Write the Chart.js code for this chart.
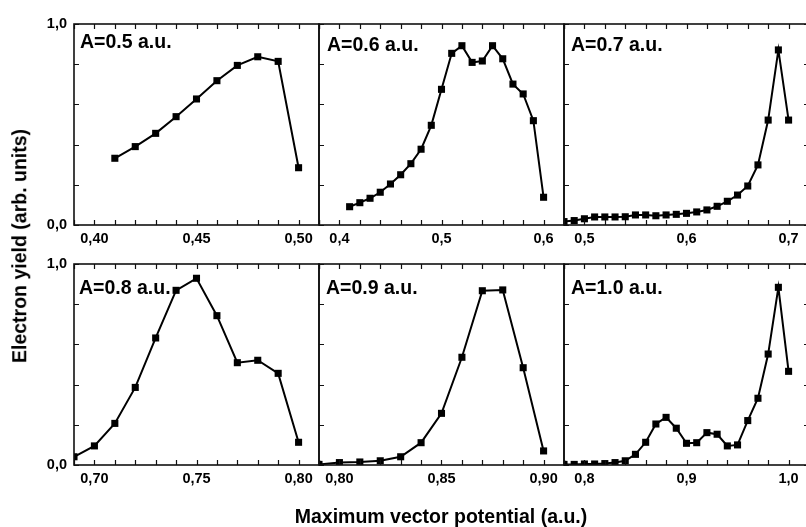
<!DOCTYPE html>
<html>
<head>
<meta charset="utf-8">
<script src="https://cdn.jsdelivr.net/npm/chart.js@4/dist/chart.umd.min.js"></script>
<style>
  html, body { margin: 0; padding: 0; background: #fff; overflow: hidden; }
  #wrap { position: relative; width: 806px; height: 527px; overflow: hidden; background: #fff; }
  canvas { position: absolute; }
  .lbl { position: absolute; font: bold 19.5px "Liberation Sans", Arial, sans-serif; color: #000; white-space: nowrap; line-height: 1; }
</style>
</head>
<body>
<div id="wrap">
  <canvas id="c1"></canvas>
  <canvas id="c2"></canvas>
  <canvas id="c3"></canvas>
  <canvas id="c4"></canvas>
  <canvas id="c5"></canvas>
  <canvas id="c6"></canvas>
  <div class="lbl" style="left:80px; top:31.5px">A=0.5 a.u.</div>
  <div class="lbl" style="left:327px; top:34.5px">A=0.6 a.u.</div>
  <div class="lbl" style="left:571px; top:34.5px">A=0.7 a.u.</div>
  <div class="lbl" style="left:79px; top:277.5px">A=0.8 a.u.</div>
  <div class="lbl" style="left:326px; top:277.5px">A=0.9 a.u.</div>
  <div class="lbl" style="left:571px; top:277.5px">A=1.0 a.u.</div>
  <div class="lbl" style="left:441px; top:506.5px; transform: translateX(-50%)">Maximum vector potential (a.u.)</div>
  <div class="lbl" style="left:20px; top:246px; transform: translate(-50%, -50%) rotate(-90deg)">Electron yield (arb. units)</div>
</div>
<script>
// data
const x_a05 = [0.41, 0.42, 0.43, 0.44, 0.45, 0.46, 0.47, 0.48, 0.49, 0.50];
const y_a05 = [0.332, 0.390, 0.456, 0.539, 0.627, 0.718, 0.794, 0.837, 0.814, 0.285];

const x_a06 = [0.41, 0.42, 0.43, 0.44, 0.45, 0.46, 0.47, 0.48, 0.49, 0.50,
               0.51, 0.52, 0.53, 0.54, 0.55, 0.56, 0.57, 0.58, 0.59, 0.60];
const y_a06 = [0.091, 0.111, 0.133, 0.163, 0.204, 0.250, 0.305, 0.377, 0.496, 0.675,
               0.854, 0.892, 0.809, 0.816, 0.892, 0.827, 0.701, 0.652, 0.519, 0.138];

const x_a07 = [0.48, 0.49, 0.50, 0.51, 0.52, 0.53, 0.54, 0.55, 0.56, 0.57, 0.58, 0.59,
               0.60, 0.61, 0.62, 0.63, 0.64, 0.65, 0.66, 0.67, 0.68, 0.69, 0.70];
const y_a07 = [0.017, 0.022, 0.031, 0.040, 0.040, 0.040, 0.041, 0.050, 0.050, 0.046, 0.050, 0.053,
               0.058, 0.065, 0.075, 0.093, 0.118, 0.149, 0.194, 0.299, 0.522, 0.871, 0.522];

const x_a08 = [0.69, 0.70, 0.71, 0.72, 0.73, 0.74, 0.75, 0.76, 0.77, 0.78, 0.79, 0.80];
const y_a08 = [0.041, 0.095, 0.207, 0.386, 0.632, 0.869, 0.929, 0.743, 0.509, 0.521, 0.456, 0.113];

const x_a09 = [0.79, 0.80, 0.81, 0.82, 0.83, 0.84, 0.85, 0.86, 0.87, 0.88, 0.89, 0.90];
const y_a09 = [0.003, 0.012, 0.015, 0.021, 0.041, 0.111, 0.257, 0.536, 0.867, 0.871, 0.484, 0.070];

const x_a10 = [0.78, 0.79, 0.80, 0.81, 0.82, 0.83, 0.84, 0.85, 0.86, 0.87, 0.88, 0.89,
               0.90, 0.91, 0.92, 0.93, 0.94, 0.95, 0.96, 0.97, 0.98, 0.99, 1.00];
const y_a10 = [0.003, 0.003, 0.005, 0.005, 0.007, 0.012, 0.021, 0.053, 0.113, 0.204, 0.237, 0.183,
               0.108, 0.111, 0.161, 0.153, 0.095, 0.100, 0.221, 0.332, 0.552, 0.884, 0.466];

// axis ranges and tick steps: [min, max, minor step, labelled step, decimals]
const x_axis_a05 = [0.39, 0.51, 0.01, 0.05, 2];
const x_axis_a06 = [0.38, 0.62, 0.02, 0.1, 1];
const x_axis_a07 = [0.48, 0.72, 0.02, 0.1, 1];
const x_axis_a08 = [0.69, 0.81, 0.01, 0.05, 2];
const x_axis_a09 = [0.79, 0.91, 0.01, 0.05, 2];
const x_axis_a10 = [0.78, 1.02, 0.02, 0.1, 1];
const y_tick_labels = ['0,0', '1,0'];

const PW = 245, PH = 201;
const PAD = 20, X_AXIS_H = 30, Y_AXIS_W = 60;

function fmt(v, d) {
    return v.toFixed(d).replace('.', ',');
}

function on_step(v, step) {
    const r = v / step;
    return Math.abs(r - Math.round(r)) < 1e-6;
}

// frame with inward tick marks, like the original plots
const framePlugin = {
    id: 'frame',
    afterDraw(chart) {
        const ctx = chart.ctx;
        const a = chart.chartArea;
        const xs = chart.scales.x, ys = chart.scales.y;
        const right_ticks = chart.options.plugins.frame.rightTicks;
        ctx.save();
        ctx.strokeStyle = '#111';
        ctx.lineWidth = 1.2;
        ctx.beginPath();
        xs.ticks.forEach(t => {
            const px = Math.round(xs.getPixelForValue(t.value)) + 0.5;
            ctx.moveTo(px, a.bottom); ctx.lineTo(px, a.bottom - 5);
            ctx.moveTo(px, a.top); ctx.lineTo(px, a.top + 5);
        });
        ys.ticks.forEach(t => {
            const py = Math.round(ys.getPixelForValue(t.value)) + 0.5;
            ctx.moveTo(a.left, py); ctx.lineTo(a.left + 5, py);
            if (right_ticks) {
                ctx.moveTo(a.right, py); ctx.lineTo(a.right - 5, py);
            }
        });
        ctx.stroke();
        ctx.lineWidth = 1.6;
        ctx.strokeRect(a.left, a.top, a.right - a.left, a.bottom - a.top);
        ctx.restore();
    }
};

function make_panel(id, left, top, xs, ys, xaxis, showY, lastCol) {
    const canvas = document.getElementById(id);
    const lw = showY ? Y_AXIS_W : PAD;
    canvas.width = lw + PW + PAD;
    canvas.height = PAD + PH + X_AXIS_H;
    canvas.style.left = (left - lw) + 'px';
    canvas.style.top = (top - PAD) + 'px';

    const [xmin, xmax, minor, major, dec] = xaxis;
    const tickFont = { family: '"Liberation Sans", Arial, sans-serif', weight: 'bold', size: 14.5 };

    return new Chart(canvas, {
        type: 'line',
        data: {
            datasets: [{
                data: xs.map((v, i) => ({ x: v, y: ys[i] })),
                borderColor: '#000',
                borderWidth: 2,
                tension: 0,
                pointStyle: 'rect',
                pointRadius: 5,
                pointBackgroundColor: '#000',
                pointBorderWidth: 0,
                clip: 0
            }]
        },
        options: {
            responsive: false,
            animation: false,
            devicePixelRatio: 1,
            layout: { padding: { top: PAD, right: PAD, bottom: 0, left: showY ? 0 : PAD } },
            plugins: {
                legend: { display: false },
                tooltip: { enabled: false },
                frame: { rightTicks: lastCol }
            },
            scales: {
                x: {
                    type: 'linear',
                    min: xmin,
                    max: xmax,
                    grid: { display: false, drawTicks: false },
                    border: { display: false },
                    ticks: {
                        stepSize: minor,
                        autoSkip: false,
                        maxRotation: 0,
                        padding: 5,
                        color: '#000',
                        font: tickFont,
                        callback: v => on_step(v, major) ? fmt(v, dec) : ''
                    },
                    afterFit: s => { s.height = X_AXIS_H; }
                },
                y: {
                    type: 'linear',
                    min: 0,
                    max: 1,
                    grid: { display: false, drawTicks: false },
                    border: { display: false },
                    ticks: {
                        display: showY,
                        stepSize: 0.2,
                        padding: 7,
                        color: '#000',
                        font: tickFont,
                        callback: v => v === 0 ? y_tick_labels[0] : (v === 1 ? y_tick_labels[1] : '')
                    },
                    afterFit: s => { s.width = showY ? Y_AXIS_W : 0; }
                }
            }
        },
        plugins: [framePlugin]
    });
}

make_panel('c1', 74, 24, x_a05, y_a05, x_axis_a05, true, false);
make_panel('c2', 319, 24, x_a06, y_a06, x_axis_a06, false, false);
make_panel('c3', 564, 24, x_a07, y_a07, x_axis_a07, false, true);
make_panel('c4', 74, 264, x_a08, y_a08, x_axis_a08, true, false);
make_panel('c5', 319, 264, x_a09, y_a09, x_axis_a09, false, false);
make_panel('c6', 564, 264, x_a10, y_a10, x_axis_a10, false, true);
</script>
</body>
</html>
